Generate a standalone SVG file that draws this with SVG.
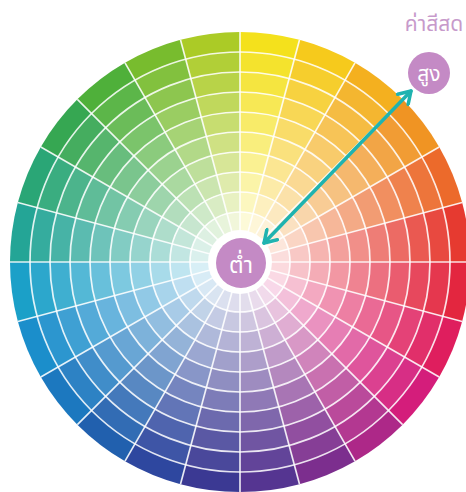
<svg xmlns="http://www.w3.org/2000/svg" width="466" height="492" viewBox="0 0 466 492">
<style>
.ring{fill:none;stroke:#fff}
.grid{fill:none;stroke:#fff;stroke-width:1.7;stroke-opacity:0.85}
.lbl{font-family:"Noto Sans Thai","Noto Sans","DejaVu Sans",sans-serif;text-anchor:middle}
.conn{stroke:#1fb3b0;stroke-width:3.5;fill:none;stroke-linecap:round}
</style>
<defs>
<marker id="ah" viewBox="0 0 12 12" refX="10" refY="6" markerWidth="5" markerHeight="5" orient="auto-start-reverse" markerUnits="strokeWidth">
<path d="M2,1 L10,6 L2,11" fill="none" stroke="#1fb3b0" stroke-width="2.4" stroke-linecap="round" stroke-linejoin="round"/>
</marker>
</defs>
<rect width="466" height="492" fill="#fff"/>
<g id="wheel">
<path d="M240,262 L240,32 A230,230 0 0 1 299.53,39.84 Z" fill="#f4e11c"/>
<path d="M240,262 L299.53,39.84 A230,230 0 0 1 355,62.81 Z" fill="#f6ca1c"/>
<path d="M240,262 L355,62.81 A230,230 0 0 1 402.63,99.37 Z" fill="#f4b01f"/>
<path d="M240,262 L402.63,99.37 A230,230 0 0 1 439.19,147 Z" fill="#f09423"/>
<path d="M240,262 L439.19,147 A230,230 0 0 1 462.16,202.47 Z" fill="#ec6a2b"/>
<path d="M240,262 L462.16,202.47 A230,230 0 0 1 470,262 Z" fill="#e63a30"/>
<path d="M240,262 L470,262 A230,230 0 0 1 462.16,321.53 Z" fill="#e3263f"/>
<path d="M240,262 L462.16,321.53 A230,230 0 0 1 439.19,377 Z" fill="#df1e5e"/>
<path d="M240,262 L439.19,377 A230,230 0 0 1 402.63,424.63 Z" fill="#d41d7b"/>
<path d="M240,262 L402.63,424.63 A230,230 0 0 1 355,461.19 Z" fill="#ad2888"/>
<path d="M240,262 L355,461.19 A230,230 0 0 1 299.53,484.16 Z" fill="#7c2e8e"/>
<path d="M240,262 L299.53,484.16 A230,230 0 0 1 240,492 Z" fill="#553591"/>
<path d="M240,262 L240,492 A230,230 0 0 1 180.47,484.16 Z" fill="#3b3993"/>
<path d="M240,262 L180.47,484.16 A230,230 0 0 1 125,461.19 Z" fill="#2e479f"/>
<path d="M240,262 L125,461.19 A230,230 0 0 1 77.37,424.63 Z" fill="#2160ae"/>
<path d="M240,262 L77.37,424.63 A230,230 0 0 1 40.81,377 Z" fill="#1c78bf"/>
<path d="M240,262 L40.81,377 A230,230 0 0 1 17.84,321.53 Z" fill="#1b8ecb"/>
<path d="M240,262 L17.84,321.53 A230,230 0 0 1 10,262 Z" fill="#1ba0c8"/>
<path d="M240,262 L10,262 A230,230 0 0 1 17.84,202.47 Z" fill="#24a596"/>
<path d="M240,262 L17.84,202.47 A230,230 0 0 1 40.81,147 Z" fill="#2aa676"/>
<path d="M240,262 L40.81,147 A230,230 0 0 1 77.37,99.37 Z" fill="#36a752"/>
<path d="M240,262 L77.37,99.37 A230,230 0 0 1 125,62.81 Z" fill="#4fb03a"/>
<path d="M240,262 L125,62.81 A230,230 0 0 1 180.47,39.84 Z" fill="#78bc2e"/>
<path d="M240,262 L180.47,39.84 A230,230 0 0 1 240,32 Z" fill="#abcb26"/>
<g class="ring" stroke-width="20.5">
<circle cx="240" cy="262" r="200" stroke-opacity="0.08"/>
<circle cx="240" cy="262" r="180" stroke-opacity="0.16"/>
<circle cx="240" cy="262" r="160" stroke-opacity="0.25"/>
<circle cx="240" cy="262" r="140" stroke-opacity="0.34"/>
<circle cx="240" cy="262" r="120" stroke-opacity="0.43"/>
<circle cx="240" cy="262" r="100" stroke-opacity="0.52"/>
<circle cx="240" cy="262" r="80" stroke-opacity="0.62"/>
<circle cx="240" cy="262" r="60" stroke-opacity="0.72"/>
<circle cx="240" cy="262" r="40" stroke-opacity="0.83"/>
</g>
<g class="grid">
<circle cx="240" cy="262" r="210"/>
<circle cx="240" cy="262" r="190"/>
<circle cx="240" cy="262" r="170"/>
<circle cx="240" cy="262" r="150"/>
<circle cx="240" cy="262" r="130"/>
<circle cx="240" cy="262" r="110"/>
<circle cx="240" cy="262" r="90"/>
<circle cx="240" cy="262" r="70"/>
<circle cx="240" cy="262" r="50"/>
<path d="M240,32 L240,492 M299.53,39.84 L180.47,484.16 M355,62.81 L125,461.19 M402.63,99.37 L77.37,424.63 M439.19,147 L40.81,377 M462.16,202.47 L17.84,321.53 M470,262 L10,262 M462.16,321.53 L17.84,202.47 M439.19,377 L40.81,147 M402.63,424.63 L77.37,99.37 M355,461.19 L125,62.81 M299.53,484.16 L180.47,39.84"/>
</g>
<circle cx="240" cy="262" r="32" fill="#fff"/>
</g>
<g id="connectors">
<line class="conn" x1="264" y1="243" x2="411" y2="91" marker-start="url(#ah)" marker-end="url(#ah)"/>
</g>
<g id="node-low">
<circle cx="241" cy="263" r="25" fill="#c48ac5"/>
<text class="lbl" x="241" y="273" font-size="23" fill="#fff">ต่ำ</text>
</g>
<g id="node-high">
<circle cx="429" cy="73" r="21" fill="#c48ac5"/>
<text class="lbl" x="429" y="81" font-size="21" fill="#fff">สูง</text>
</g>
<g id="title">
<text class="lbl" x="434" y="31" font-size="21" fill="#c79acb">ค่าสีสด</text>
</g>
</svg>
